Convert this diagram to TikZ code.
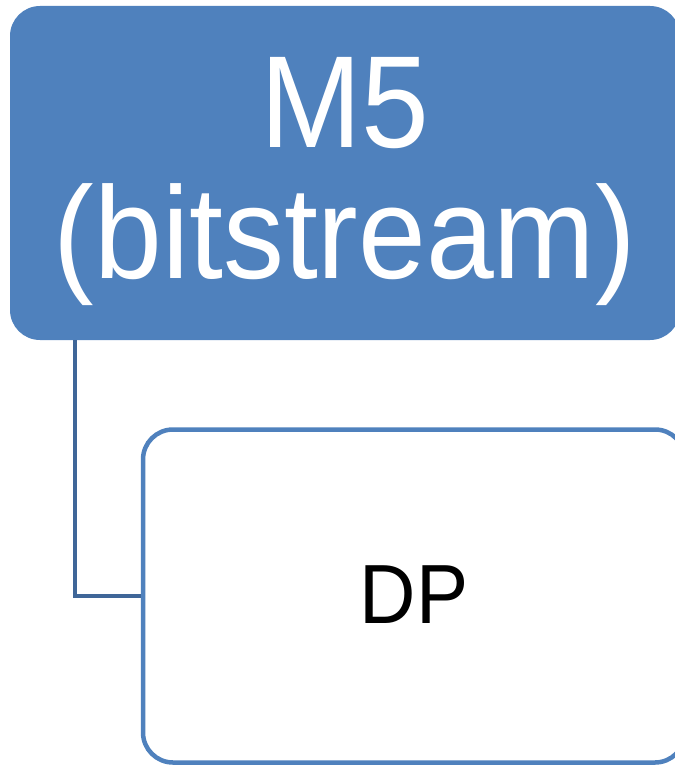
\documentclass[tikz,border=0pt]{standalone}
\usepackage{fontspec}
\setmainfont{Liberation Sans}[FakeStretch=0.93]
\usepackage{xcolor}
\definecolor{boxblue}{HTML}{4F81BD}
\definecolor{linkblue}{HTML}{3F6698}
\tikzset{
  topbox/.style={fill=boxblue, draw=none, rounded corners=30pt, text=white, align=center,
    minimum width=670pt, minimum height=334pt, inner sep=0pt,
    font=\fontsize{131}{131}\selectfont},
  childbox/.style={fill=white, draw=boxblue, line width=4.5pt, rounded corners=30pt,
    minimum width=542pt, minimum height=333pt, inner sep=0pt,
    font=\fontsize{84}{84}\selectfont},
  link/.style={draw=linkblue, line width=4pt}
}
\begin{document}
\begin{tikzpicture}[x=1pt,y=-1pt]
\useasboundingbox (0,0) rectangle (674,767);
\node[topbox] (m5) at (345,173) {\rule{0pt}{107pt}M5\\(bitstream)};
\node[childbox] (dp) at (414,596) {\raisebox{3pt}{DP}};
\draw[link] ([xshift=65pt]m5.south west) |- (dp.west);
\end{tikzpicture}
\end{document}
